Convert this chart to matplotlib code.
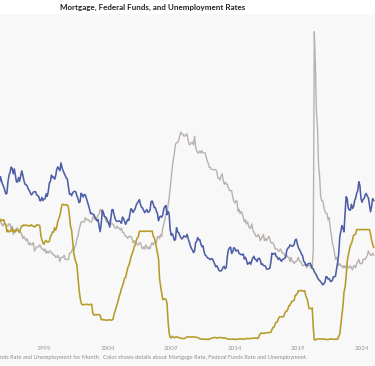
import numpy as np
import matplotlib
matplotlib.use("Agg")
import matplotlib.pyplot as plt

# monthly values, Jan 1995 - Dec 2024
mortgage = np.array([
    9.15, 8.83, 8.46, 8.32, 7.96, 7.57, 7.61, 7.86, 7.64, 7.48, 7.38, 7.20,
    7.03, 7.08, 7.62, 7.93, 8.07, 8.32, 8.25, 8.00, 8.23, 7.92, 7.62, 7.60,
    7.82, 7.65, 7.90, 8.14, 7.94, 7.69, 7.50, 7.48, 7.43, 7.29, 7.21, 7.10,
    6.99, 7.04, 7.13, 7.14, 7.14, 7.00, 6.95, 6.92, 6.72, 6.71, 6.87, 6.72,
    6.79, 6.81, 7.04, 6.92, 7.15, 7.55, 7.63, 7.94, 7.82, 7.85, 7.74, 7.91,
    8.21, 8.33, 8.24, 8.15, 8.52, 8.29, 8.15, 8.03, 7.91, 7.80, 7.75, 7.38,
    7.03, 7.05, 6.95, 7.08, 7.15, 7.16, 7.13, 6.95, 6.82, 6.62, 6.66, 7.07,
    7.00, 6.89, 7.01, 6.99, 6.81, 6.65, 6.49, 6.29, 6.09, 6.11, 6.07, 6.05,
    5.92, 5.84, 5.75, 5.81, 5.48, 5.23, 5.63, 6.26, 6.15, 5.95, 5.93, 5.88,
    5.71, 5.64, 5.45, 5.83, 6.27, 6.29, 6.06, 5.87, 5.75, 5.72, 5.73, 5.75,
    5.71, 5.63, 5.93, 5.86, 5.72, 5.58, 5.70, 5.82, 5.77, 6.07, 6.33, 6.27,
    6.15, 6.25, 6.32, 6.51, 6.60, 6.68, 6.76, 6.52, 6.40, 6.36, 6.24, 6.14,
    6.22, 6.29, 6.16, 6.18, 6.26, 6.66, 6.70, 6.57, 6.38, 6.38, 6.21, 6.10,
    5.76, 5.92, 5.97, 5.92, 6.04, 6.32, 6.43, 6.48, 6.04, 6.20, 6.09, 5.33,
    5.06, 5.13, 5.00, 4.81, 4.86, 5.42, 5.22, 5.19, 5.06, 4.95, 4.88, 4.93,
    5.03, 4.99, 4.97, 5.10, 4.89, 4.74, 4.56, 4.43, 4.35, 4.23, 4.30, 4.71,
    4.76, 4.95, 4.84, 4.84, 4.64, 4.51, 4.55, 4.27, 4.11, 4.07, 3.99, 3.96,
    3.92, 3.89, 3.95, 3.91, 3.80, 3.68, 3.55, 3.60, 3.50, 3.38, 3.35, 3.35,
    3.41, 3.53, 3.57, 3.45, 3.54, 4.07, 4.37, 4.46, 4.49, 4.19, 4.26, 4.46,
    4.43, 4.30, 4.34, 4.34, 4.19, 4.16, 4.13, 4.12, 4.16, 3.92, 4.00, 3.86,
    3.67, 3.71, 3.77, 3.67, 3.84, 3.98, 4.05, 3.91, 3.89, 3.80, 3.94, 3.96,
    3.87, 3.66, 3.69, 3.61, 3.60, 3.57, 3.44, 3.44, 3.46, 3.47, 3.77, 4.20,
    4.15, 4.17, 4.20, 4.05, 4.01, 3.90, 3.97, 3.88, 3.81, 3.90, 3.92, 3.95,
    4.03, 4.33, 4.44, 4.47, 4.59, 4.57, 4.53, 4.55, 4.63, 4.83, 4.87, 4.64,
    4.46, 4.37, 4.27, 4.14, 4.07, 3.80, 3.77, 3.62, 3.61, 3.69, 3.70, 3.72,
    3.62, 3.47, 3.45, 3.31, 3.23, 3.16, 3.02, 2.94, 2.89, 2.83, 2.77, 2.68,
    2.74, 2.81, 3.08, 3.06, 2.96, 2.98, 2.87, 2.84, 2.90, 3.07, 3.07, 3.10,
    3.45, 3.76, 4.17, 4.98, 5.23, 5.52, 5.41, 5.22, 6.11, 6.90, 6.81, 6.36,
    6.27, 6.26, 6.54, 6.34, 6.43, 6.71, 6.84, 7.07, 7.20, 7.62, 7.44, 6.82,
    6.64, 6.78, 6.82, 7.00, 7.06, 6.92, 6.85, 6.50, 6.18, 6.43, 6.81, 6.72,
])

fed_funds = np.array([
    5.53, 5.92, 5.98, 6.05, 6.01, 6.00, 5.85, 5.74, 5.80, 5.76, 5.80, 5.60,
    5.56, 5.22, 5.31, 5.22, 5.24, 5.27, 5.40, 5.22, 5.30, 5.24, 5.31, 5.29,
    5.25, 5.19, 5.39, 5.51, 5.50, 5.56, 5.52, 5.54, 5.54, 5.50, 5.52, 5.50,
    5.56, 5.51, 5.49, 5.45, 5.49, 5.56, 5.54, 5.55, 5.51, 5.07, 4.83, 4.68,
    4.63, 4.76, 4.81, 4.74, 4.74, 4.76, 4.99, 5.07, 5.22, 5.20, 5.42, 5.30,
    5.45, 5.73, 5.85, 6.02, 6.27, 6.53, 6.54, 6.50, 6.52, 6.51, 6.51, 6.40,
    5.98, 5.49, 5.31, 4.80, 4.21, 3.97, 3.77, 3.65, 3.07, 2.49, 2.09, 1.82,
    1.73, 1.74, 1.73, 1.75, 1.75, 1.75, 1.73, 1.74, 1.75, 1.75, 1.34, 1.24,
    1.24, 1.26, 1.25, 1.26, 1.26, 1.22, 1.01, 1.03, 1.01, 1.01, 1.00, 0.98,
    1.00, 1.01, 1.00, 1.00, 1.00, 1.03, 1.26, 1.43, 1.61, 1.76, 1.93, 2.16,
    2.28, 2.50, 2.63, 2.79, 3.00, 3.04, 3.26, 3.50, 3.62, 3.78, 4.00, 4.16,
    4.29, 4.49, 4.59, 4.79, 4.94, 4.99, 5.24, 5.25, 5.25, 5.25, 5.25, 5.24,
    5.25, 5.26, 5.26, 5.25, 5.25, 5.25, 5.26, 5.02, 4.94, 4.76, 4.49, 4.24,
    3.94, 2.98, 2.61, 2.28, 1.98, 2.00, 2.01, 2.00, 1.81, 0.97, 0.39, 0.16,
    0.15, 0.22, 0.18, 0.15, 0.18, 0.21, 0.16, 0.16, 0.15, 0.12, 0.12, 0.12,
    0.11, 0.13, 0.16, 0.20, 0.20, 0.18, 0.18, 0.19, 0.19, 0.19, 0.19, 0.18,
    0.17, 0.16, 0.14, 0.10, 0.09, 0.09, 0.07, 0.10, 0.08, 0.07, 0.08, 0.07,
    0.08, 0.10, 0.13, 0.14, 0.16, 0.16, 0.16, 0.13, 0.14, 0.16, 0.16, 0.16,
    0.14, 0.15, 0.14, 0.15, 0.11, 0.09, 0.09, 0.08, 0.08, 0.09, 0.08, 0.09,
    0.07, 0.07, 0.08, 0.09, 0.09, 0.10, 0.09, 0.09, 0.09, 0.09, 0.09, 0.12,
    0.11, 0.11, 0.11, 0.12, 0.12, 0.13, 0.13, 0.14, 0.14, 0.12, 0.12, 0.24,
    0.34, 0.38, 0.36, 0.37, 0.37, 0.38, 0.39, 0.40, 0.40, 0.40, 0.41, 0.54,
    0.65, 0.66, 0.79, 0.90, 0.91, 1.04, 1.15, 1.16, 1.15, 1.15, 1.16, 1.30,
    1.41, 1.42, 1.51, 1.69, 1.70, 1.82, 1.91, 1.91, 1.95, 2.19, 2.20, 2.27,
    2.40, 2.40, 2.41, 2.42, 2.39, 2.38, 2.40, 2.13, 2.04, 1.83, 1.55, 1.55,
    1.55, 1.58, 0.65, 0.05, 0.05, 0.08, 0.09, 0.10, 0.09, 0.09, 0.09, 0.09,
    0.09, 0.08, 0.07, 0.07, 0.06, 0.08, 0.10, 0.09, 0.08, 0.08, 0.08, 0.08,
    0.08, 0.08, 0.20, 0.33, 0.77, 1.21, 1.68, 2.33, 2.56, 3.08, 3.78, 4.10,
    4.33, 4.57, 4.65, 4.83, 5.06, 5.08, 5.12, 5.33, 5.33, 5.33, 5.33, 5.33,
    5.33, 5.33, 5.33, 5.33, 5.33, 5.33, 5.33, 5.33, 5.13, 4.83, 4.64, 4.48,
])

unemployment = np.array([
    5.6, 5.4, 5.4, 5.8, 5.6, 5.6, 5.7, 5.7, 5.6, 5.5, 5.6, 5.6,
    5.6, 5.5, 5.5, 5.6, 5.6, 5.3, 5.5, 5.1, 5.2, 5.2, 5.4, 5.4,
    5.3, 5.2, 5.2, 5.1, 4.9, 5.0, 4.9, 4.8, 4.9, 4.7, 4.6, 4.7,
    4.6, 4.6, 4.7, 4.3, 4.4, 4.5, 4.5, 4.5, 4.6, 4.5, 4.4, 4.4,
    4.3, 4.4, 4.2, 4.3, 4.2, 4.3, 4.3, 4.2, 4.2, 4.1, 4.1, 4.0,
    4.0, 4.1, 4.0, 3.8, 4.0, 4.0, 4.0, 4.1, 3.9, 3.9, 3.9, 3.9,
    4.2, 4.2, 4.3, 4.4, 4.3, 4.5, 4.6, 4.9, 5.0, 5.3, 5.5, 5.7,
    5.7, 5.7, 5.7, 5.9, 5.8, 5.8, 5.8, 5.7, 5.7, 5.7, 5.9, 6.0,
    5.8, 5.9, 5.9, 6.0, 6.1, 6.3, 6.2, 6.1, 6.1, 6.0, 5.8, 5.7,
    5.7, 5.6, 5.8, 5.6, 5.6, 5.6, 5.5, 5.4, 5.4, 5.5, 5.4, 5.4,
    5.3, 5.4, 5.2, 5.2, 5.1, 5.0, 5.0, 4.9, 5.0, 5.0, 5.0, 4.9,
    4.7, 4.8, 4.7, 4.7, 4.6, 4.6, 4.7, 4.7, 4.5, 4.4, 4.5, 4.4,
    4.6, 4.5, 4.4, 4.5, 4.4, 4.6, 4.7, 4.6, 4.7, 4.7, 4.7, 5.0,
    5.0, 4.9, 5.1, 5.0, 5.4, 5.6, 5.8, 6.1, 6.1, 6.5, 6.8, 7.3,
    7.8, 8.3, 8.7, 9.0, 9.4, 9.5, 9.5, 9.6, 9.8, 10.0, 9.9, 9.9,
    9.8, 9.8, 9.9, 9.9, 9.6, 9.4, 9.4, 9.5, 9.5, 9.4, 9.8, 9.3,
    9.1, 9.0, 9.0, 9.1, 9.0, 9.1, 9.0, 9.0, 9.0, 8.8, 8.6, 8.5,
    8.3, 8.3, 8.2, 8.2, 8.2, 8.2, 8.2, 8.1, 7.8, 7.8, 7.7, 7.9,
    8.0, 7.7, 7.5, 7.6, 7.5, 7.5, 7.3, 7.2, 7.2, 7.2, 6.9, 6.7,
    6.6, 6.7, 6.7, 6.2, 6.3, 6.1, 6.2, 6.1, 5.9, 5.7, 5.8, 5.6,
    5.7, 5.5, 5.4, 5.4, 5.6, 5.3, 5.2, 5.1, 5.0, 5.0, 5.1, 5.0,
    4.8, 4.9, 5.0, 5.1, 4.8, 4.9, 4.8, 4.9, 5.0, 4.9, 4.7, 4.7,
    4.7, 4.6, 4.4, 4.4, 4.4, 4.3, 4.3, 4.4, 4.3, 4.2, 4.2, 4.1,
    4.0, 4.1, 4.0, 4.0, 3.8, 4.0, 3.8, 3.8, 3.7, 3.8, 3.8, 3.9,
    4.0, 3.8, 3.8, 3.7, 3.6, 3.6, 3.7, 3.6, 3.5, 3.6, 3.6, 3.6,
    3.5, 3.5, 4.4, 14.8, 13.2, 11.0, 10.2, 8.4, 7.9, 6.9, 6.7, 6.7,
    6.4, 6.2, 6.1, 6.1, 5.8, 5.9, 5.4, 5.1, 4.7, 4.5, 4.2, 3.9,
    4.0, 3.8, 3.6, 3.7, 3.6, 3.6, 3.5, 3.6, 3.5, 3.6, 3.6, 3.5,
    3.5, 3.6, 3.5, 3.4, 3.6, 3.6, 3.5, 3.7, 3.8, 3.9, 3.7, 3.7,
    3.7, 3.9, 3.9, 3.9, 4.0, 4.1, 4.3, 4.2, 4.1, 4.1, 4.2, 4.1,
])

years = np.repeat(np.arange(1995, 2025), 12)
months = np.tile(np.arange(12), 30)
t = years + months / 12.0

tick_years = [1999, 2004, 2009, 2014, 2019, 2024]

W, H = 375, 366
fig = plt.figure(figsize=(W / 100, H / 100), dpi=100)
fig.patch.set_facecolor("white")

# light gray panel behind the view
fig.patches.append(plt.Rectangle((0, 0), 1, 1 - 14 / H, transform=fig.transFigure,
                                 facecolor="#f8f8f8", edgecolor="none", zorder=-10))

ax = fig.add_axes([0, 1 - 343 / H, 1, (343 - 14) / H])
ax.set_facecolor("#f8f8f8")
ax.plot(t, unemployment, color="#b9b1ae", lw=1.0, zorder=2)
ax.plot(t, fed_funds, color="#b59b28", lw=1.15, zorder=3)
ax.plot(t, mortgage, color="#4e5ea6", lw=1.15, zorder=4)

ax.set_xlim(1995.54, 2025.02)
ax.set_ylim(-0.1, 15.65)
ax.set_yticks([])
ax.set_xticks(tick_years)
ax.set_xticklabels([str(y) for y in tick_years], fontsize=4.5, color="#999999", family="Lato")
ax.tick_params(axis="x", length=0, pad=2.5)
for s in ax.spines.values():
    s.set_visible(False)

fig.text(153 / W, 1 - 7 / H, "Mortgage, Federal Funds, and Unemployment Rates",
         ha="center", va="center", fontsize=5.8, fontweight="bold", color="#222222", family="Lato")
fig.text(0, 1 - 357.5 / H,
         "nds Rate and Unemployment for Month.  Color shows details about Mortgage Rate, Federal Funds Rate and Unemployment.",
         ha="left", va="center", fontsize=4.1, color="#8c8c8c", family="Lato")

fig.savefig("out.png", dpi=100, facecolor="white")
